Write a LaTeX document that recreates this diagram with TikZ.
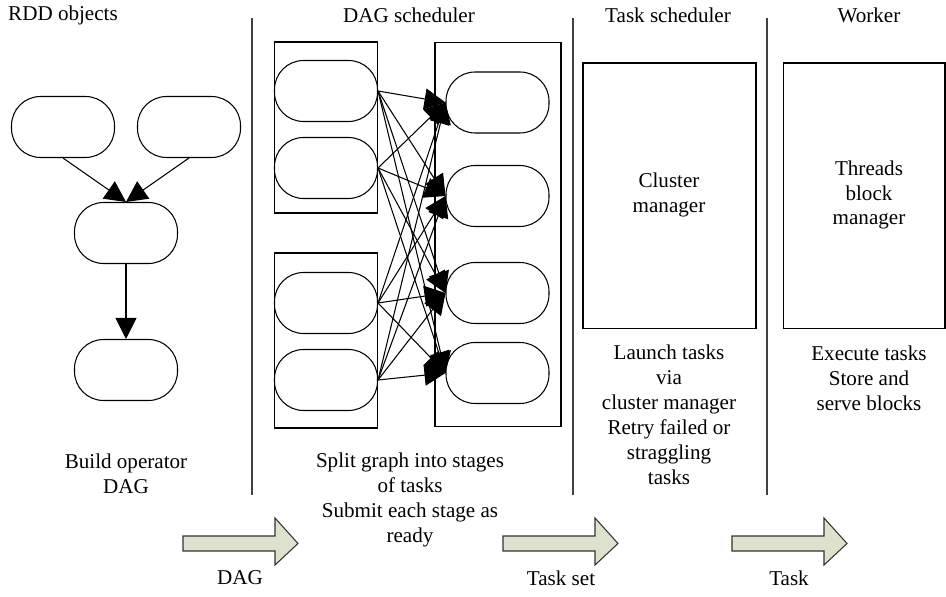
\documentclass[tikz,border=0pt]{standalone}
\usepackage{fontspec}
\setmainfont{Liberation Serif}
\usetikzlibrary{arrows.meta}
\definecolor{flowfill}{RGB}{221,226,204}

\begin{document}
\begin{tikzpicture}[x=0.02cm,y=-0.02cm,
 line width=0.6pt,
 font=\fontsize{12}{14.2}\selectfont,
 pill/.style={draw,rounded corners=0.58cm,minimum width=2.06cm,minimum height=1.22cm,inner sep=0pt},
 frame/.style={draw,inner sep=0pt},
 label/.style={align=center,inner sep=0pt},
 >={Triangle[length=4.2mm,width=4.2mm]}]
\useasboundingbox (0,0) rectangle (946,597);
% column headers and separators
\node[label] (h1) at (63,15) {RDD objects};
\node[label] (h2) at (409,15) {DAG scheduler};
\node[label] (h3) at (668,15) {Task scheduler};
\node[label] (h4) at (869,15) {Worker};
\coordinate (s1t) at (252,18); \coordinate (s1b) at (252,495);
\coordinate (s2t) at (573,18); \coordinate (s2b) at (573,495);
\coordinate (s3t) at (767,18); \coordinate (s3b) at (767,495);
\draw[black!75] (s1t)--(s1b) (s2t)--(s2b) (s3t)--(s3b);
% RDD objects
\node[pill] (ra) at (63,127) {};
\node[pill] (rb) at (189,127) {};
\node[pill] (rc) at (126,233) {};
\node[pill] (rd) at (126,370) {};
\draw[->] (ra.south)--(rc.north);
\draw[->] (rb.south)--(rc.north);
\draw[->] (rc)--(rd);
\node[label] (rtxt) at (126,474) {Build operator\\DAG};
% DAG scheduler
\node[frame,minimum width=2.06cm,minimum height=3.42cm] (sa) at (326,127.5) {};
\node[frame,minimum width=2.06cm,minimum height=3.5cm] (sb) at (326,340.5) {};
\node[frame,minimum width=2.52cm,minimum height=7.7cm] (sc) at (498,234.5) {};
\node[pill] (p1) at (326,91) {};
\node[pill] (p2) at (326,168) {};
\node[pill] (p3) at (326,303) {};
\node[pill] (p4) at (326,380) {};
\node[pill] (q1) at (497.5,102.5) {};
\node[pill] (q2) at (497.5,196) {};
\node[pill] (q3) at (497.5,293) {};
\node[pill] (q4) at (497.5,373) {};
\foreach \i in {1,...,4}
 \foreach \j in {1,...,4}
  \draw[->] (p\i.east)--(q\j.west);
\node[label] (stxt) at (410,500) {Split graph into stages\\of tasks\\Submit each stage as\\ready};
% Task scheduler
\node[frame,minimum width=3.46cm,minimum height=5.32cm] (tbox) at (669.5,196) {};
\node[label] (tin) at (669,195) {Cluster\\manager};
\node[label] (ttxt) at (669,415) {Launch tasks\\via\\cluster manager\\Retry failed or\\straggling\\tasks};
% Worker
\node[frame,minimum width=3.24cm,minimum height=5.32cm] (wbox) at (864,196) {};
\node[label] (win) at (869,195) {Threads\\block\\manager};
\node[label] (wtxt) at (869,378) {Execute tasks\\Store and\\serve blocks};
% hand-off arrows
\foreach \x in {183,503,732}
 \draw[draw=black!80,fill=flowfill] (\x,536)--++(92,0)--++(0,-18)--++(23,25.5)--++(-23,21.5)--++(0,-14)--++(-92,0)--cycle;
\node[label] (la) at (240,578) {DAG};
\node[label] (lb) at (561,578) {Task set};
\node[label] (lc) at (789,578) {Task};
\end{tikzpicture}
\end{document}
